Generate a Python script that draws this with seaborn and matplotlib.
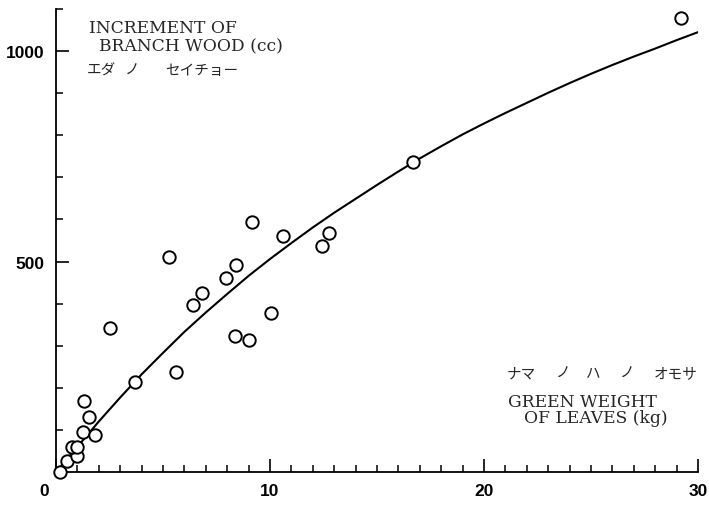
import matplotlib
matplotlib.use("Agg")
import matplotlib.pyplot as plt
import matplotlib.transforms as mtransforms
from matplotlib.ticker import MultipleLocator, FixedLocator
import numpy as np
import pandas as pd
import seaborn as sns

# ---- data ----
leaf_weight_kg = [0.17, 0.5, 0.97, 0.73, 1.0, 1.25, 1.82, 1.56, 1.29, 3.67, 2.54,
                  5.61, 5.28, 6.40, 6.82, 7.94, 8.41, 8.36, 9.02, 10.07, 10.59,
                  9.15, 12.44, 12.74, 16.69, 29.21]
branch_increment_cc = [1, 25, 38, 60, 60, 94, 87, 131, 169, 213, 341,
                       238, 511, 397, 425, 461, 492, 324, 314, 378, 561,
                       595, 536, 567, 737, 1078]

curve_x = [0, 1, 2, 3, 4, 5, 6, 7, 8, 9, 10, 11, 12, 13, 14, 15, 16, 17, 18,
           19, 20, 21, 22, 23, 24, 25, 26, 27, 28, 29, 30]
curve_y = [0, 60, 120, 177, 232, 283, 333, 379, 423, 466, 506, 544, 581, 616,
           649, 682, 714, 745, 774, 802, 828, 853, 877, 901, 924, 946, 967,
           987, 1006, 1026, 1045]

x_major = [0, 10, 20, 30]
x_labels = ["0", "10", "20", "30"]
y_major = [500, 1000]
y_labels = ["500", "1000"]

title_lines = ["INCREMENT OF", "BRANCH WOOD (cc)"]
title_jp = ["エダ", "ノ", "セイチョー"]
xlab_lines = ["GREEN WEIGHT", "OF LEAVES (kg)"]
xlab_jp = ["ナマ", "ノ", "ハ", "ノ", "オモサ"]

pts = pd.DataFrame({"x": leaf_weight_kg, "y": branch_increment_cc})
crv = pd.DataFrame({"x": curve_x, "y": curve_y})

# ---- figure ----
sns.set_style("ticks")
plt.rcParams["font.family"] = ["DejaVu Sans"]
W, H = 709, 506
fig = plt.figure(figsize=(W / 100, H / 100), dpi=100)
ax = fig.add_axes([56 / W, 1 - 473 / H, 642 / W, 463 / H])

sns.lineplot(data=crv, x="x", y="y", ax=ax, color="black", linewidth=1.5,
             sort=True, estimator=None, zorder=2)
sns.scatterplot(data=pts, x="x", y="y", ax=ax, marker="o", s=80,
                facecolor="white", edgecolor="black", linewidth=1.4,
                zorder=3, clip_on=False)

ax.set_xlim(0, 30)
ax.set_ylim(0, 1100)
ax.set_xlabel("")
ax.set_ylabel("")
for s in ["top", "right"]:
    ax.spines[s].set_visible(False)
for s in ["left", "bottom"]:
    ax.spines[s].set_linewidth(1.3)
    ax.spines[s].set_color("black")

ax.xaxis.set_major_locator(FixedLocator(x_major))
ax.set_xticklabels(x_labels)
ax.xaxis.set_minor_locator(MultipleLocator(1))
ax.yaxis.set_major_locator(FixedLocator(y_major))
ax.set_yticklabels(y_labels)
ax.yaxis.set_minor_locator(MultipleLocator(100))

tick_font = ["Liberation Sans", "DejaVu Sans"]
ax.tick_params(which="major", direction="in", length=9.5, width=1.2, color="black", pad=8)
ax.tick_params(which="minor", direction="in", length=5, width=1.1, color="black")
for lab in ax.get_xticklabels() + ax.get_yticklabels():
    lab.set_fontfamily(tick_font)
    lab.set_fontsize(12.5)
    lab.set_fontweight("bold")
    lab.set_color("black")

# shift the "0" label left like the reference
off = mtransforms.ScaledTranslation(-12 / 100, 0, fig.dpi_scale_trans)
xl = ax.get_xticklabels()
xl[0].set_transform(xl[0].get_transform() + off)

def px(x, y):
    return x / W, 1 - y / H

serif = ["DejaVu Serif"]
jp = ["Noto Sans CJK JP", "DejaVu Sans"]

fig.text(*px(89, 33), title_lines[0], fontfamily=serif, fontsize=12.3, va="baseline", ha="left")
fig.text(*px(99, 51), title_lines[1], fontfamily=serif, fontsize=12.3, va="baseline", ha="left")
for t, cx in zip(title_jp, [101.5, 132.5, 201.5]):
    fig.text(*px(cx, 71), t, fontfamily=jp, fontsize=10.5, va="center", ha="center")

for t, cx in zip(xlab_jp, [521, 563, 593.5, 627, 675.5]):
    fig.text(*px(cx, 374), t, fontfamily=jp, fontsize=10.5, va="center", ha="center")
fig.text(*px(508, 407), xlab_lines[0], fontfamily=serif, fontsize=12.3, va="baseline", ha="left")
fig.text(*px(524, 423), xlab_lines[1], fontfamily=serif, fontsize=12.3, va="baseline", ha="left")

fig.savefig("out.png", dpi=100)
